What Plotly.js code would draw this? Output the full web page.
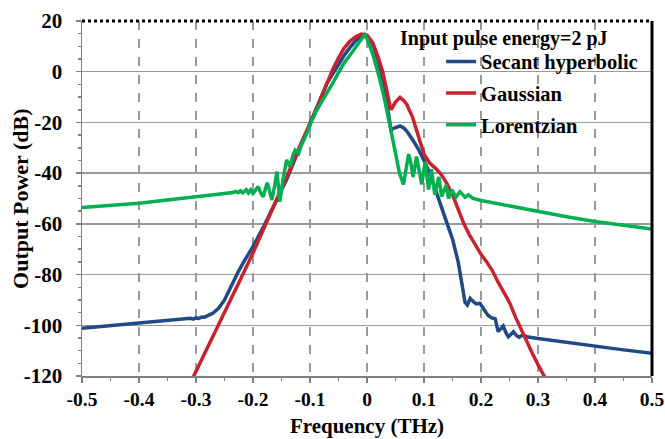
<!DOCTYPE html>
<html>
<head>
<meta charset="utf-8">
<script src="https://cdn.plot.ly/plotly-3.0.1.min.js"></script>
<style>html,body{margin:0;padding:0;background:#fff;}#chart{width:665px;height:439px;}</style>
</head>
<body>
<div id="chart"></div>
<script>
// Secant hyperbolic
var sechX = [-0.5,-0.45,-0.4,-0.35,-0.32,-0.31,-0.305,-0.3,-0.295,-0.29,-0.285,-0.28,-0.275,-0.27,-0.26,-0.25,-0.243,-0.235,-0.225,-0.215,-0.2,-0.18,-0.16,-0.14,-0.12,-0.1,-0.09,-0.08,-0.07,-0.06,-0.05,-0.04,-0.03,-0.02,-0.01,-0.004,0.0,0.01,0.02,0.03,0.036,0.042,0.05,0.058,0.065,0.07,0.08,0.09,0.1,0.11,0.12,0.13,0.14,0.15,0.16,0.166,0.172,0.176,0.181,0.187,0.192,0.198,0.205,0.212,0.218,0.225,0.23,0.235,0.239,0.244,0.248,0.253,0.257,0.262,0.267,0.273,0.28,0.3,0.35,0.4,0.45,0.5];
var sechY = [-101.2,-100.2,-99.2,-98.2,-97.7,-97.2,-97.6,-97.1,-97.3,-96.7,-96.8,-96.2,-95.8,-95.2,-93.2,-90,-86.8,-83,-78.5,-74.5,-69,-60.5,-51.5,-42,-31,-20.5,-15,-9.5,-4.5,-0.8,3,6.5,9.5,12.2,14,14.6,14.2,11,4,-5,-14,-22.9,-22,-21.4,-22.3,-23.5,-26.8,-30.5,-35,-40,-46.5,-53,-59,-66,-75,-83,-91,-92,-89.4,-90.8,-91.6,-91.3,-93.5,-96,-97,-97.5,-102.5,-101,-100.3,-103,-104.5,-103.5,-102.5,-104,-104.7,-103.8,-104.5,-105.2,-106.8,-108.4,-109.7,-111];
// Gaussian
var gaussX = [-0.305,-0.28,-0.26,-0.24,-0.22,-0.2,-0.18,-0.16,-0.14,-0.12,-0.1,-0.09,-0.08,-0.07,-0.06,-0.05,-0.04,-0.03,-0.02,-0.01,-0.004,0.0,0.01,0.02,0.0275,0.035,0.042,0.05,0.058,0.065,0.07,0.08,0.09,0.1,0.11,0.12,0.13,0.14,0.15,0.16,0.17,0.18,0.19,0.2,0.21,0.22,0.23,0.24,0.25,0.26,0.27,0.28,0.29,0.3,0.312];
var gaussY = [-120.5,-109,-100,-90.5,-81,-71.5,-61.5,-51,-41,-30.5,-21,-15.5,-10,-4.5,1,5.5,9.3,12,13.8,14.8,14.7,14.3,11.5,5.5,0,-8,-15,-12,-10.1,-11.5,-13,-18,-25,-32.5,-36,-38,-40.5,-44,-48.5,-54.5,-60,-64.5,-68.5,-72,-75,-78.5,-83,-87,-91,-96.5,-101.5,-106.5,-111,-115.5,-120.5];
// Lorentzian
var lorX = [-0.5,-0.45,-0.4,-0.35,-0.3,-0.25,-0.24,-0.235,-0.23,-0.226,-0.222,-0.218,-0.212,-0.208,-0.204,-0.2,-0.195,-0.191,-0.186,-0.182,-0.178,-0.175,-0.171,-0.167,-0.162,-0.158,-0.155,-0.153,-0.147,-0.141,-0.138,-0.135,-0.13,-0.126,-0.123,-0.12,-0.116,-0.112,-0.105,-0.098,-0.09,-0.08,-0.07,-0.06,-0.049,-0.04,-0.03,-0.015,-0.004,0.0,0.01,0.019,0.03,0.04,0.049,0.057,0.064,0.069,0.073,0.077,0.081,0.087,0.092,0.096,0.102,0.105,0.108,0.113,0.116,0.119,0.126,0.128,0.131,0.139,0.143,0.149,0.156,0.163,0.172,0.178,0.186,0.2,0.25,0.3,0.35,0.4,0.45,0.5];
var lorY = [-53.5,-52.7,-51.9,-50.6,-49.3,-48,-47.9,-47.6,-47.2,-47.7,-47,-47.8,-46.5,-47.8,-46.6,-48,-46.5,-45.3,-48,-49.3,-46,-43.8,-47,-50.6,-45,-39.4,-46,-51.3,-42,-34.8,-36,-37.5,-33,-30.9,-31.5,-32.2,-29.5,-27.6,-24,-20,-16,-12,-8.5,-4.5,0,3.5,6.5,11.5,14.6,13,7,0,-10,-21,-32,-40,-44.5,-38,-32.5,-36,-41.5,-33.5,-39,-44.5,-35.5,-40,-46.5,-38.5,-43,-48.5,-41.5,-45,-49.3,-44.7,-50,-46.6,-49.5,-47.3,-49.5,-48.6,-50,-50.8,-53,-55.2,-57.2,-59.1,-60.6,-62];

var xTickVals = [-0.5,-0.4,-0.3,-0.2,-0.1,0,0.1,0.2,0.3,0.4,0.5];
var xTickText = ['-0.5','-0.4','-0.3','-0.2','-0.1','0','0.1','0.2','0.3','0.4','0.5'];
var yTickVals = [-120,-100,-80,-60,-40,-20,0,20];
var yTickText = ['-120','-100','-80','-60','-40','-20','0','20'];

var FONT = 'Liberation Serif, Times New Roman, serif';
var lw = 3.5;

var traces = [
  {x: sechX, y: sechY, type: 'scatter', mode: 'lines', name: '<b>Secant hyperbolic</b>', legendgroup: 'a',
   line: {color: '#1F4A86', width: lw}},
  {x: gaussX, y: gaussY, type: 'scatter', mode: 'lines', name: '<b>Gaussian</b>', legendgroup: 'b',
   line: {color: '#C8232C', width: lw}},
  {x: lorX, y: lorY, type: 'scatter', mode: 'lines', name: '<b>Lorentzian</b>', legendgroup: 'c',
   line: {color: '#00B050', width: lw}}
];

var layout = {
  width: 665, height: 439,
  margin: {l: 82, r: 13, t: 21, b: 63},
  paper_bgcolor: '#fff', plot_bgcolor: '#fff',
  font: {family: FONT, size: 19, color: '#000'},
  showlegend: true,
  legend: {x: 0.63, xanchor: 'left', y: 0.942, yanchor: 'top', bgcolor: 'rgba(0,0,0,0)',
           font: {family: FONT, size: 20.5, color: '#000'}, traceorder: 'grouped', tracegroupgap: 2},
  xaxis: {
    range: [-0.5, 0.5], tickmode: 'array', tickvals: xTickVals, ticktext: xTickText,
    showgrid: true, gridcolor: '#9a9a9a', gridwidth: 1.5, griddash: 'dash',
    zeroline: false, showline: true, linecolor: '#7f7f7f', linewidth: 1.5,
    ticks: 'outside', ticklen: 5, tickwidth: 1.5, tickcolor: '#7f7f7f',
    minor: {dtick: 0.05, ticks: 'outside', ticklen: 3, tickcolor: '#7f7f7f', showgrid: false},
    tickfont: {family: FONT, size: 19.5, color: '#000', weight: 'bold'},
    title: {text: '<b>Frequency (THz)</b>', font: {family: FONT, size: 21, color: '#000'}, standoff: 9}
  },
  yaxis: {
    range: [-120, 20], tickmode: 'array', tickvals: yTickVals, ticktext: yTickText,
    showgrid: true, gridcolor: '#9a9a9a', gridwidth: 1.5,
    zeroline: false, showline: true, linecolor: '#7f7f7f', linewidth: 1.5,
    ticks: 'outside', ticklen: 5, tickwidth: 1.5, tickcolor: '#7f7f7f',
    minor: {dtick: 5, ticks: 'outside', ticklen: 3, tickcolor: '#7f7f7f', showgrid: false},
    tickfont: {family: FONT, size: 21, color: '#000', weight: 'bold'},
    ticklabelstandoff: 9
  },
  shapes: [
    {type: 'line', xref: 'paper', yref: 'paper', x0: 0, x1: 1, y0: 1, y1: 1,
     line: {color: '#000', width: 3, dash: 'dot'}},
    {type: 'line', xref: 'paper', yref: 'paper', x0: 1, x1: 1, y0: 0, y1: 1,
     line: {color: '#000', width: 3}}
  ],
  annotations: [
    {xref: 'paper', yref: 'paper', x: 0.555, y: 0.952, xanchor: 'left', yanchor: 'middle',
     text: '<b>Input pulse energy=2 pJ</b>', showarrow: false,
     font: {family: FONT, size: 20, color: '#000'}},
    {xref: 'paper', yref: 'paper', x: -0.108, y: 0.5, xanchor: 'center', yanchor: 'middle',
     text: '<b>Output Power (dB)</b>', textangle: -90, showarrow: false,
     font: {family: FONT, size: 22, color: '#000'}}
  ]
};

Plotly.newPlot('chart', traces, layout, {displayModeBar: false, staticPlot: true});
</script>
</body>
</html>
